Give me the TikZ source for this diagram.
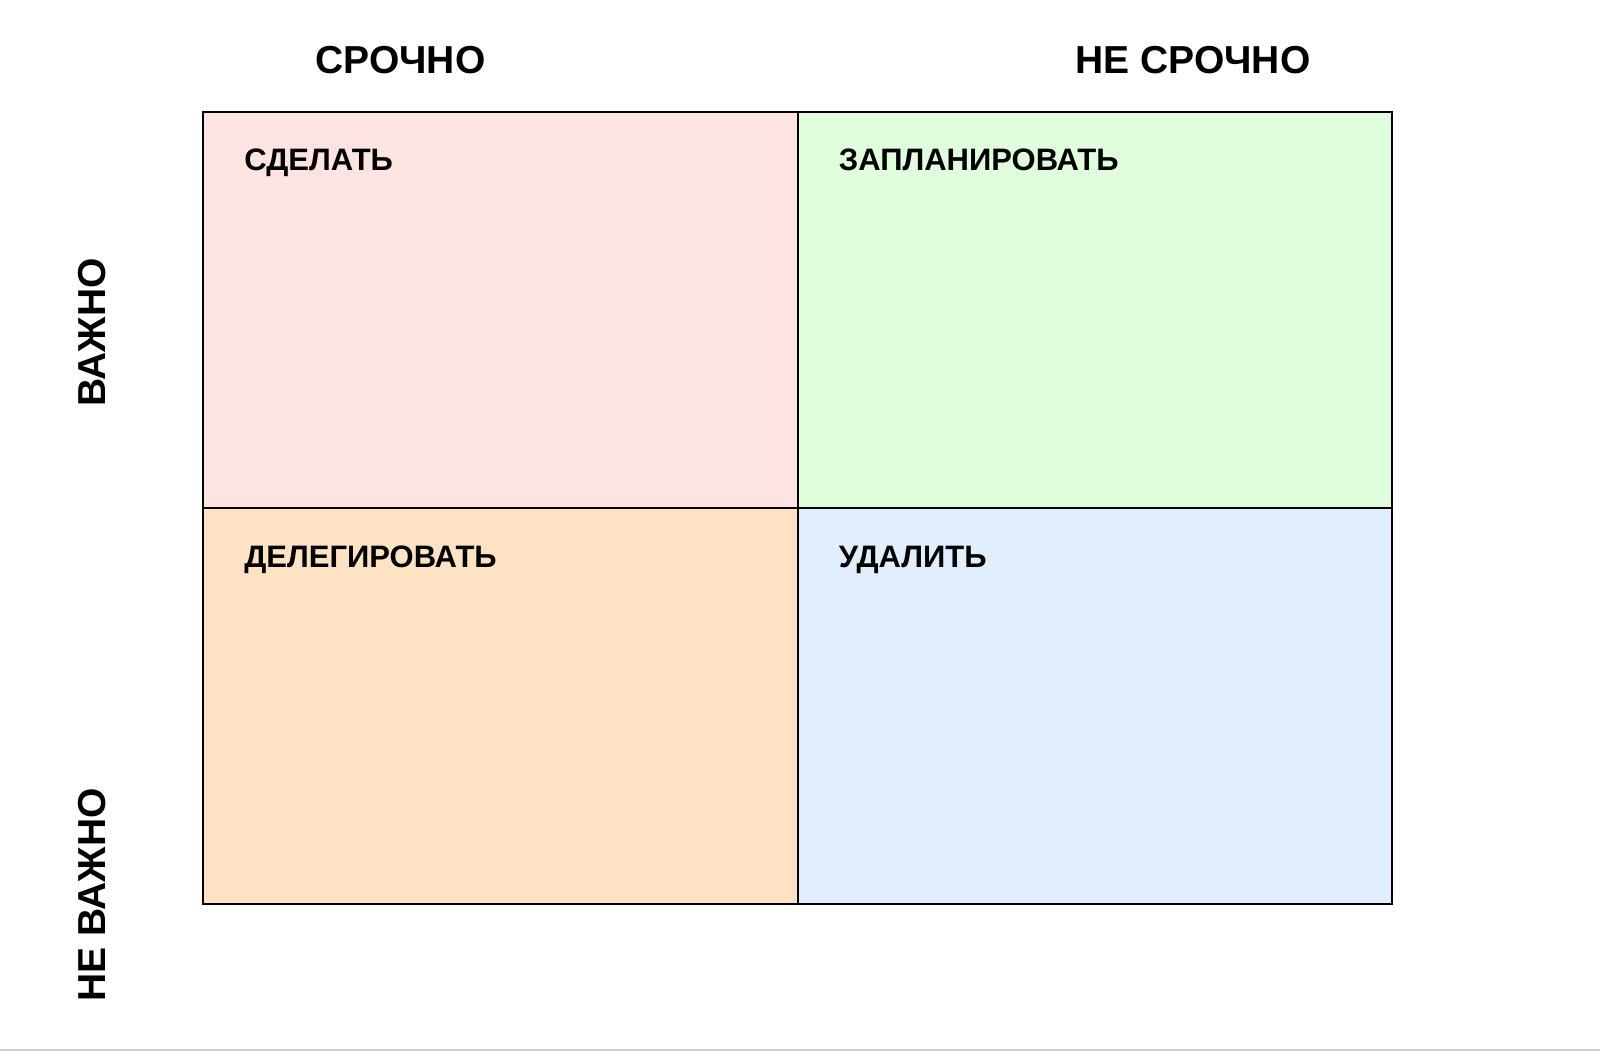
\documentclass[tikz,border=0pt]{standalone}
\usepackage{fontspec}
\setmainfont{Liberation Sans}
\usetikzlibrary{positioning}

\definecolor{doColor}{RGB}{253,227,225}
\definecolor{planColor}{RGB}{224,253,222}
\definecolor{delegateColor}{RGB}{253,226,196}
\definecolor{dropColor}{RGB}{224,238,254}

\begin{document}
\begin{tikzpicture}[
    x=0.5pt, y=-0.5pt,
    cell/.style={rectangle, draw, line width=1pt, minimum width=297.25pt, minimum height=198pt, inner sep=0pt, outer sep=0pt},
    axis/.style={font=\fontsize{19.5}{23}\selectfont\bfseries, inner sep=0pt},
    task/.style={font=\fontsize{15.5}{19}\selectfont\bfseries, inner sep=0pt, anchor=base west}
]

% Page size
\useasboundingbox (0,0) rectangle (1600,1051);
\fill[white] (0,0) rectangle (1600,1051);
\coordinate (edgeL) at (0,1049.5);
\coordinate (edgeR) at (1600,1049.5);
\draw[black!18, line width=1pt] (edgeL) -- (edgeR);

% Quadrants
\node[cell, fill=doColor] (do) at (500.25,310) {};
\node[cell, fill=planColor, right=0pt of do] (plan) {};
\node[cell, fill=delegateColor, below=0pt of do] (delegate) {};
\node[cell, fill=dropColor, right=0pt of delegate] (drop) {};

% Quadrant labels
\node[task] at ([xshift=20.5pt, yshift=-29pt]do.north west) (doLabel) {СДЕЛАТЬ};
\node[task] at ([xshift=20.5pt, yshift=-29pt]plan.north west) (planLabel) {ЗАПЛАНИРОВАТЬ};
\node[task] at ([xshift=20.5pt, yshift=-29.5pt]delegate.north west) (delegateLabel) {ДЕЛЕГИРОВАТЬ};
\node[task] at ([xshift=20.5pt, yshift=-29.5pt]drop.north west) (dropLabel) {УДАЛИТЬ};

% Axis labels
\node[axis, anchor=base] (urgent) at (400.5,73) {СРОЧНО};
\node[axis, anchor=base] (notUrgent) at (1193,73) {НЕ СРОЧНО};
\node[axis, anchor=base west, rotate=90] (important) at (105,407) {ВАЖНО};
\node[axis, anchor=base west, rotate=90] (notImportant) at (105,1002) {НЕ ВАЖНО};

\end{tikzpicture}
\end{document}
